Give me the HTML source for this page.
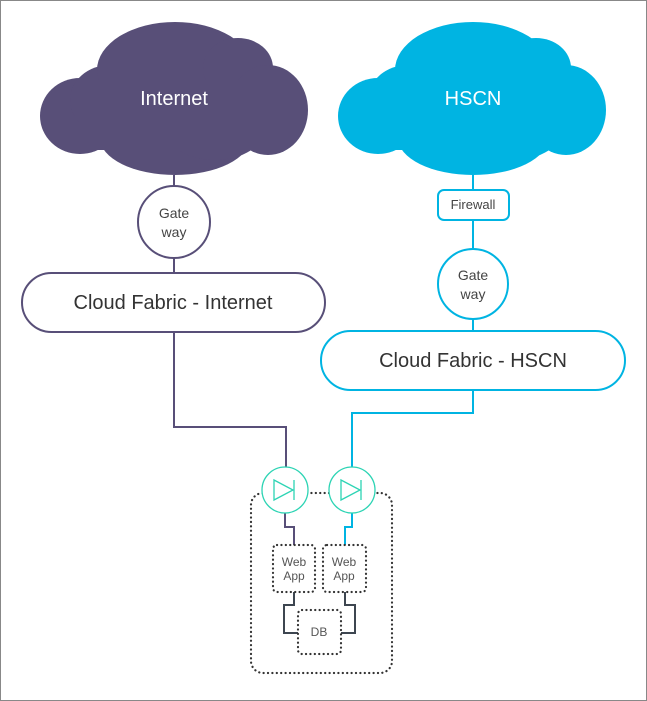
<!DOCTYPE html>
<html><head><style>
html,body{margin:0;padding:0;background:#fff}
svg{display:block}
text{font-family:"Liberation Sans",sans-serif}
</style></head><body>
<svg width="647" height="701" viewBox="0 0 647 701" xmlns="http://www.w3.org/2000/svg">
<rect x="0.5" y="0.5" width="646" height="700" fill="#fff" stroke="#888" stroke-width="1"/>
<defs>
<g id="cloud">
<ellipse cx="80" cy="116" rx="40" ry="38"/>
<ellipse cx="110" cy="100" rx="40" ry="35"/>
<ellipse cx="175" cy="70" rx="78" ry="48"/>
<ellipse cx="238" cy="68" rx="35" ry="30"/>
<ellipse cx="268" cy="110" rx="40" ry="45"/>
<ellipse cx="175" cy="138" rx="75" ry="37"/>
<ellipse cx="215" cy="128" rx="50" ry="32"/>
<rect x="80" y="80" width="190" height="70"/>
</g>
</defs>
<g fill="#584f78"><use href="#cloud"/></g>
<g fill="#00b4e2" transform="translate(298,0)"><use href="#cloud"/></g>
<text x="174" y="105" fill="#fff" font-size="20" text-anchor="middle">Internet</text>
<text x="473" y="105" fill="#fff" font-size="20" text-anchor="middle">HSCN</text>

<g fill="none" stroke-width="2">
<path d="M174 175V186M174 258V272M174 332V427H286V468" stroke="#584f78"/>
<path d="M473 175V189M473 220V249M473 319V330M473 390V413H352V468" stroke="#00b4e2"/>
<path d="M285 508V527H294V545" stroke="#584f78"/>
<path d="M352 508V527H345V545" stroke="#00b4e2"/>
<path d="M294 592V605H284V633H298M345 592V605H355V633H341" stroke="#3d4650"/>
</g>

<circle cx="174" cy="222" r="36" fill="#fff" stroke="#584f78" stroke-width="2"/>
<text x="174" y="218" font-size="14" fill="#444" text-anchor="middle">Gate</text>
<text x="174" y="237" font-size="14" fill="#444" text-anchor="middle">way</text>
<rect x="22" y="273" width="303" height="59" rx="29.5" fill="#fff" stroke="#584f78" stroke-width="2"/>
<text x="173" y="309" font-size="20" fill="#333" text-anchor="middle">Cloud Fabric - Internet</text>

<rect x="438" y="190" width="71" height="30" rx="6" fill="#fff" stroke="#00b4e2" stroke-width="2"/>
<text x="473" y="209" font-size="13" fill="#444" text-anchor="middle">Firewall</text>
<circle cx="473" cy="284" r="35" fill="#fff" stroke="#00b4e2" stroke-width="2"/>
<text x="473" y="280" font-size="14" fill="#444" text-anchor="middle">Gate</text>
<text x="473" y="299" font-size="14" fill="#444" text-anchor="middle">way</text>
<rect x="321" y="331" width="304" height="59" rx="29.5" fill="#fff" stroke="#00b4e2" stroke-width="2"/>
<text x="473" y="367" font-size="20" fill="#333" text-anchor="middle">Cloud Fabric - HSCN</text>

<g fill="none" stroke="#333" stroke-width="2.2" stroke-dasharray="0.1 4.3" stroke-linecap="round">
<rect x="251" y="493" width="141" height="180" rx="12"/>
<rect x="273" y="545" width="42" height="47" rx="4" fill="#fff"/>
<rect x="323" y="545" width="43" height="47" rx="4" fill="#fff"/>
<rect x="298" y="610" width="43" height="44" rx="4" fill="#fff"/>
</g>
<text x="294" y="566" font-size="12" fill="#555" text-anchor="middle">Web</text>
<text x="294" y="580" font-size="12" fill="#555" text-anchor="middle">App</text>
<text x="344" y="566" font-size="12" fill="#555" text-anchor="middle">Web</text>
<text x="344" y="580" font-size="12" fill="#555" text-anchor="middle">App</text>
<text x="319" y="636" font-size="12" fill="#555" text-anchor="middle">DB</text>

<g fill="#fff" stroke="#2dd4b4" stroke-width="1.3">
<circle cx="285" cy="490" r="23"/>
<circle cx="352" cy="490" r="23"/>
</g>
<g fill="none" stroke="#2dd4b4" stroke-width="1.3">
<path d="M274 480V500L293 490Z M294 480V500"/>
<path d="M341 480V500L360 490Z M361 480V500"/>
</g>
</svg>
</body></html>
